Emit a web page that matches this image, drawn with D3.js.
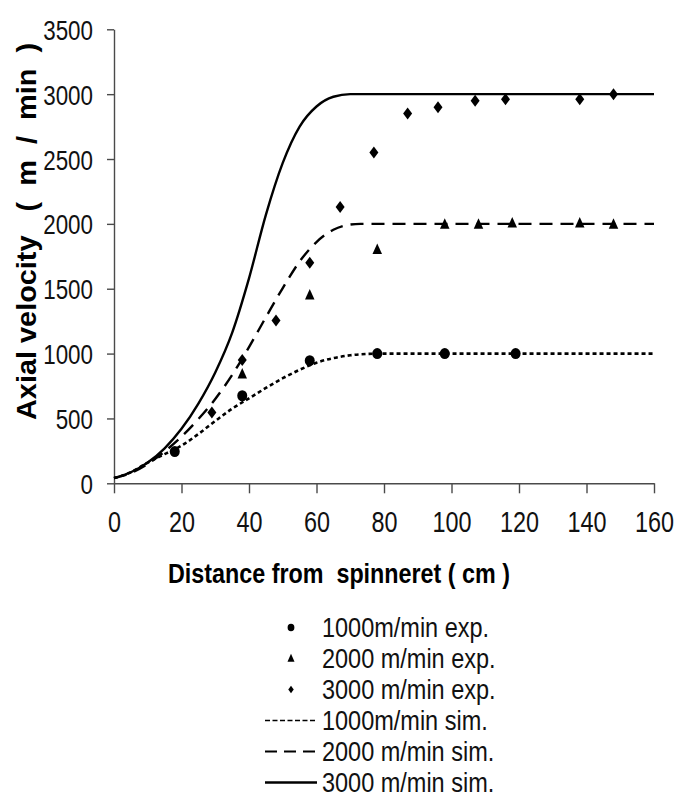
<!DOCTYPE html>
<html>
<head>
<meta charset="utf-8">
<script src="https://cdn.jsdelivr.net/npm/d3@7"></script>
<style>
  html, body { margin: 0; padding: 0; background: #fff; }
  svg { display: block; }
</style>
</head>
<body>
<svg width="675" height="796"></svg>
<script>
const xTicks = [0, 20, 40, 60, 80, 100, 120, 140, 160]
const yTicks = [0, 500, 1000, 1500, 2000, 2500, 3000, 3500]

// experimental points [distance cm, velocity m/min]
const exp1000 = [[18, 245], [38, 675], [58, 945], [78, 1000], [98, 1000], [119, 1000]]
const exp2000 = [[38, 840], [58, 1450], [78, 1800], [98, 1995], [108, 1995], [118, 2005], [138, 2005], [148, 1995]]
const exp3000 = [[29, 545], [38, 950], [48, 1255], [58, 1700], [67, 2130], [77, 2550], [87, 2850],
  [96, 2900], [107, 2950], [116, 2960], [138, 2960], [148, 3000]]

// simulated curves
const sim1000 = [[0, 40], [5, 85], [10, 160], [15, 225], [20, 290], [25, 380], [30, 480], [35, 575], [40, 655],
  [45, 735], [50, 810], [55, 875], [60, 930], [65, 965], [70, 987], [75, 997], [80, 1000], [160, 1000]]
const sim2000 = [[0, 40], [5, 80], [10, 150], [15, 245], [20, 360], [25, 495], [30, 650], [35, 835], [40, 1050],
  [45, 1280], [50, 1505], [55, 1710], [60, 1860], [65, 1955], [70, 1995], [73, 2000], [160, 2000]]
const sim3000 = [[0, 40], [5, 85], [10, 160], [15, 270], [20, 420], [25, 615], [30, 855], [35, 1160], [40, 1580],
  [45, 2070], [50, 2470], [55, 2750], [60, 2905], [65, 2980], [70, 3000], [160, 3000]]

const legendLabels = ['1000m/min exp.', '2000 m/min exp.', '3000 m/min exp.',
  '1000m/min sim.', '2000 m/min sim.', '3000 m/min sim.']

const svg = d3.select('svg')
const font = '"Liberation Sans", Arial, sans-serif'

const x = d3.scaleLinear().domain([0, 160]).range([114, 654])
const y = d3.scaleLinear().domain([0, 3500]).range([483.3, 29.3])

// shapes
const circlePath = (r) => `M${-r},0A${r},${r * 1.1} 0 1,0 ${r},0A${r},${r * 1.1} 0 1,0 ${-r},0Z`
const trianglePath = (w, h) => `M0,${-h * 0.6}L${w / 2},${h * 0.4}L${-w / 2},${h * 0.4}Z`
const diamondPath = (w, h) => `M0,${-h / 2}L${w / 2},0L0,${h / 2}L${-w / 2},0Z`

// axes
const yAxis = svg.append('g')
  .attr('transform', 'translate(114,0)')
  .call(d3.axisLeft(y).tickValues(yTicks).tickFormat(d3.format('d')).tickSize(7).tickSizeOuter(0))
yAxis.selectAll('.domain, .tick line').attr('stroke', '#4a4a4a').attr('stroke-width', 1.4)
yAxis.selectAll('.tick text')
  .attr('x', 0)
  .attr('dy', '0.36em')
  .attr('transform', 'translate(-21,0) scale(0.8,1)')
  .style('font-family', font)
  .style('font-size', '28px')
  .attr('fill', '#111')

const xAxis = svg.append('g')
  .attr('transform', 'translate(0,483.3)')
  .call(d3.axisBottom(x).tickValues(xTicks).tickSize(10).tickSizeOuter(0))
xAxis.selectAll('.domain, .tick line').attr('stroke', '#4a4a4a').attr('stroke-width', 1.4)
xAxis.selectAll('.tick text')
  .attr('y', 0)
  .attr('dy', 0)
  .attr('transform', 'translate(0,49) scale(0.78,1)')
  .style('font-family', font)
  .style('font-size', '30px')
  .attr('fill', '#111')

// titles
svg.append('text')
  .attr('x', 168)
  .attr('y', 583)
  .attr('textLength', 342)
  .attr('lengthAdjust', 'spacingAndGlyphs')
  .style('font-family', font)
  .style('font-size', '27px')
  .style('font-weight', 'bold')
  .style('white-space', 'pre')
  .text('Distance from  spinneret ( cm )')

svg.append('text')
  .attr('transform', 'translate(36,420) rotate(-90)')
  .attr('textLength', 377)
  .attr('lengthAdjust', 'spacingAndGlyphs')
  .style('font-family', font)
  .style('font-size', '28px')
  .style('font-weight', 'bold')
  .style('white-space', 'pre')
  .text('Axial velocity   (  m  /  min  )')

// simulated lines
const line = d3.line()
  .x((d) => x(d[0]))
  .y((d) => y(d[1]))
  .curve(d3.curveMonotoneX)

const simSeries = [
  { data: sim1000, dash: '4,3', width: 2.6 },
  { data: sim2000, dash: '13,8', width: 2.4 },
  { data: sim3000, dash: null, width: 2.4 }
]

svg.selectAll('path.sim')
  .data(simSeries)
  .enter().append('path')
  .attr('class', 'sim')
  .attr('d', (d) => line(d.data))
  .attr('fill', 'none')
  .attr('stroke', '#000')
  .attr('stroke-width', (d) => d.width)
  .attr('stroke-dasharray', (d) => d.dash)

// experimental markers
svg.selectAll('path.e1')
  .data(exp1000)
  .enter().append('path')
  .attr('class', 'e1')
  .attr('transform', (d) => `translate(${x(d[0])},${y(d[1])})`)
  .attr('d', circlePath(5))

svg.selectAll('path.e2')
  .data(exp2000)
  .enter().append('path')
  .attr('class', 'e2')
  .attr('transform', (d) => `translate(${x(d[0])},${y(d[1])})`)
  .attr('d', trianglePath(9.5, 10.5))

svg.selectAll('path.e3')
  .data(exp3000)
  .enter().append('path')
  .attr('class', 'e3')
  .attr('transform', (d) => `translate(${x(d[0])},${y(d[1])})`)
  .attr('d', diamondPath(9, 12))

// legend
const legY = (i) => 627.5 + i * 31
const leg = svg.append('g')

const legMarks = [circlePath(3.4), trianglePath(7, 8), diamondPath(5.5, 7.5)]
legMarks.forEach((p, i) => {
  leg.append('path')
    .attr('transform', `translate(291,${legY(i)})`)
    .attr('d', p)
})

const legLines = [
  { dash: '5,2.5', width: 1.4 },
  { dash: '12,7', width: 2 },
  { dash: null, width: 2.4 }
]
legLines.forEach((s, i) => {
  leg.append('line')
    .attr('x1', 265).attr('x2', 317)
    .attr('y1', legY(i + 3)).attr('y2', legY(i + 3))
    .attr('stroke', '#000')
    .attr('stroke-width', s.width)
    .attr('stroke-dasharray', s.dash)
})

leg.selectAll('text')
  .data(legendLabels)
  .enter().append('text')
  .attr('transform', (d, i) => `translate(322,${legY(i) + 9.5}) scale(0.87,1)`)
  .style('font-family', font)
  .style('font-size', '27px')
  .attr('fill', '#111')
  .text((d) => d)
</script>
</body>
</html>
